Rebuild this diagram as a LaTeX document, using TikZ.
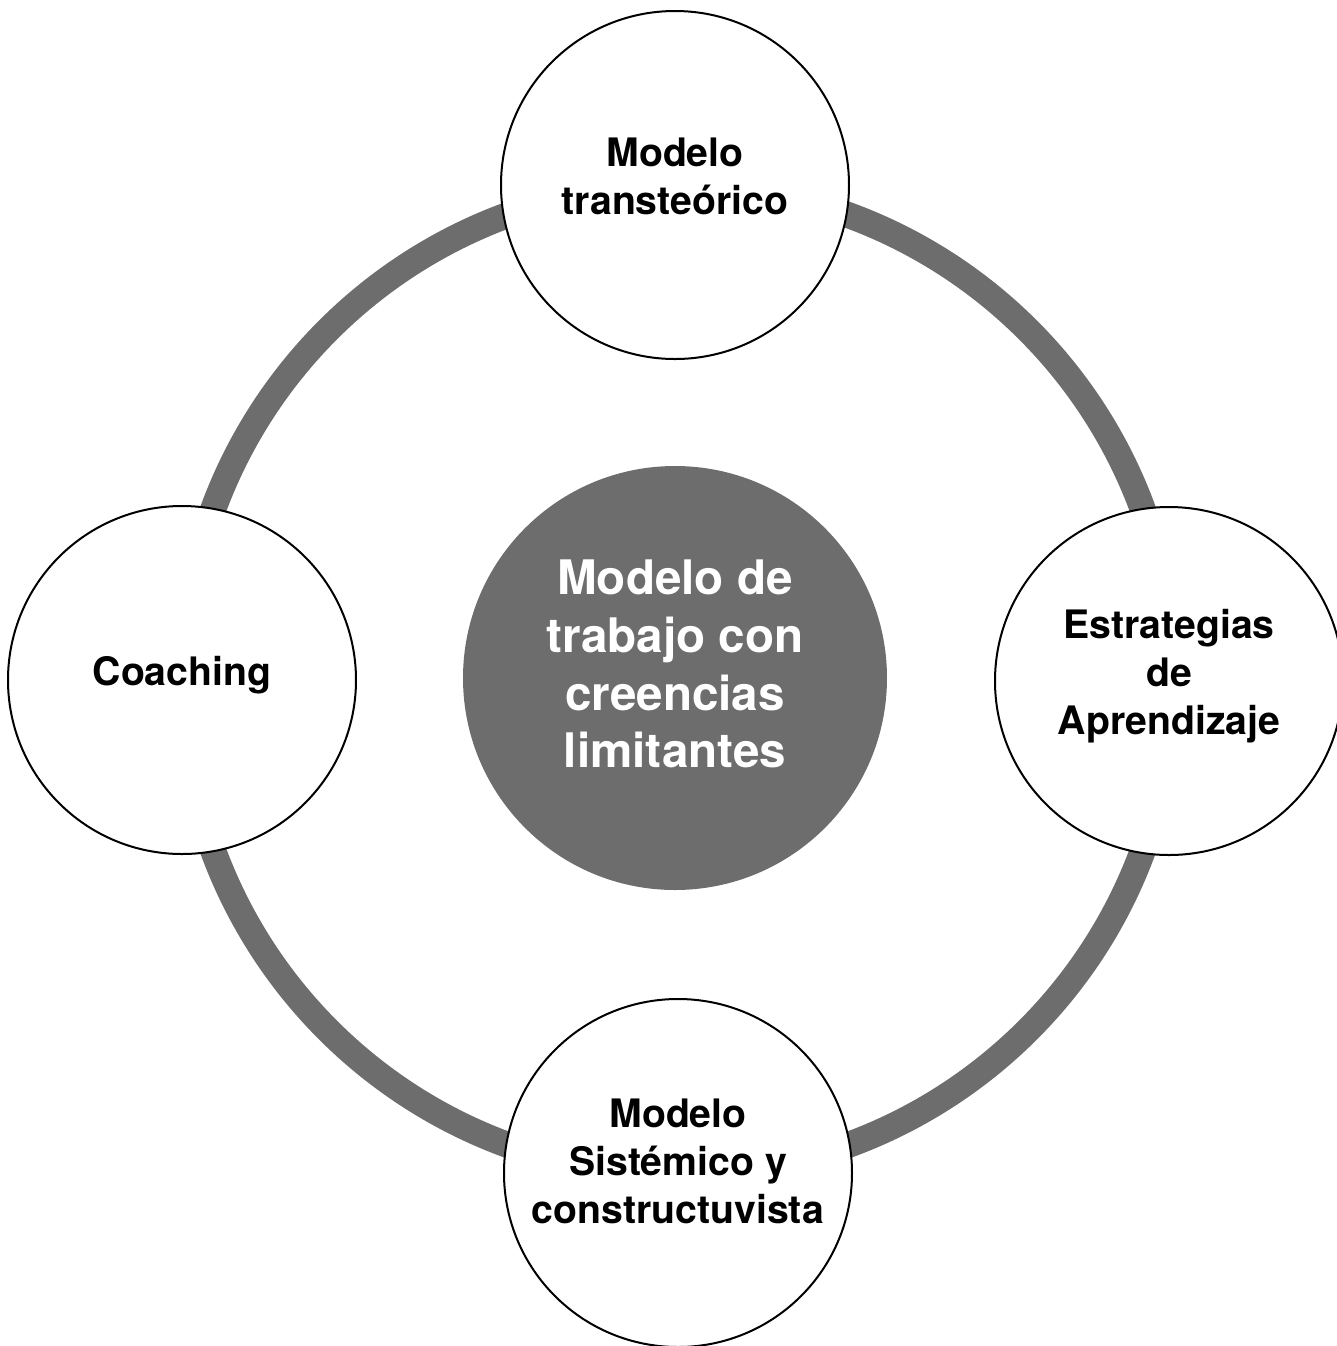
\documentclass[tikz,border=0pt]{standalone}
\usepackage{fontspec}
\setmainfont{TeX Gyre Heros}
\usepackage{tikz}
\usetikzlibrary{backgrounds}
\definecolor{grisanillo}{RGB}{109,109,109}

\begin{document}
\begin{tikzpicture}[x=0.5pt, y=-0.5pt,
    satelite/.style={circle, draw=black, line width=1pt, fill=white,
      minimum size=174pt, inner sep=0pt, align=center, text depth=9pt,
      font=\fontsize{19.6}{24}\selectfont\bfseries},
    nucleo/.style={circle, fill=grisanillo, text=white, minimum size=212pt,
      inner sep=0pt, align=center, text depth=14pt,
      font=\fontsize{23.8}{28.8}\selectfont\bfseries},
    anillo/.style={draw=grisanillo, line width=13pt}]
    \useasboundingbox (0,0) rectangle (1337,1346);
    % centro del anillo
    \coordinate (eje) at (678,680);
    \node[nucleo] (centro) at (675,678) {Modelo de\\trabajo con\\creencias\\limitantes};
    \node[satelite] (arriba) at (675,185) {Modelo\\transteórico};
    \node[satelite] (izquierda) at (182,680) {Coaching};
    \node[satelite] (derecha) at (1169,681) {Estrategias\\de\\Aprendizaje};
    \node[satelite, text depth=12pt] (abajo) at (678,1173) {Modelo\\Sistémico y\\constructuvista};
    % el anillo gris queda detras
    \begin{scope}[on background layer]
        \draw[anillo] (eje) circle[radius=495];
    \end{scope}
\end{tikzpicture}
\end{document}
